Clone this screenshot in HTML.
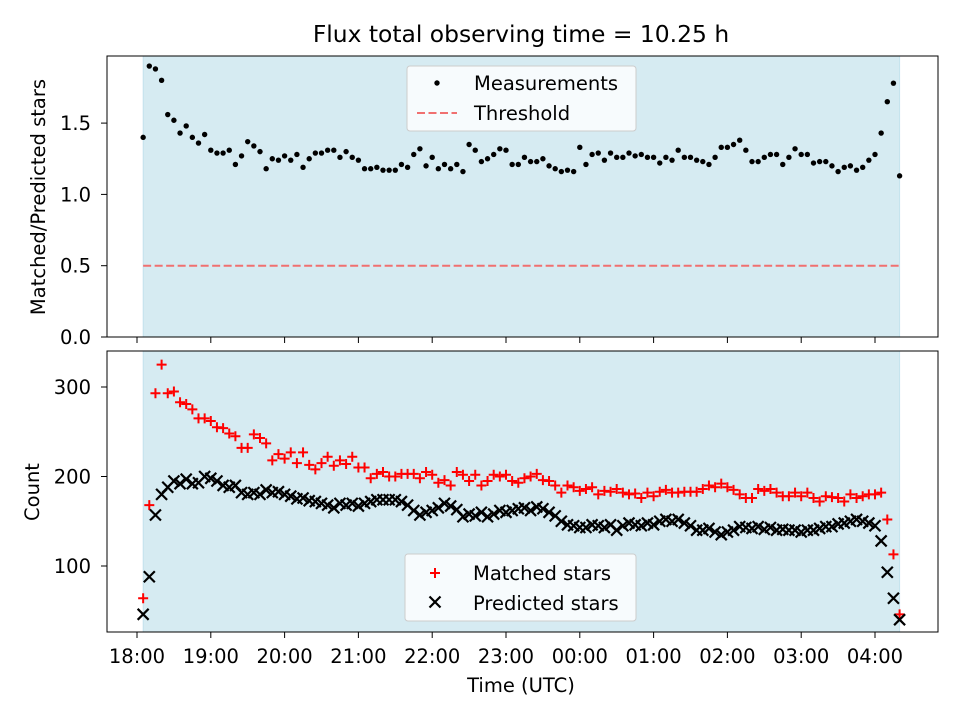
<!DOCTYPE html>
<html><head><meta charset="utf-8"><style>
body{margin:0;background:#fff;font-family:"DejaVu Sans","Liberation Sans",sans-serif}
svg text{font-family:"DejaVu Sans","Liberation Sans",sans-serif}
</style></head><body>
<svg id="c" width="960" height="720" xmlns="http://www.w3.org/2000/svg" style="position:absolute;left:0;top:0"></svg>
<script>
const ratio=[1.40,1.90,1.88,1.80,1.56,1.52,1.43,1.48,1.40,1.36,1.42,1.31,1.29,1.29,1.31,1.21,1.27,1.37,1.34,1.30,1.18,1.25,1.24,1.27,1.24,1.28,1.19,1.25,1.29,1.29,1.31,1.31,1.26,1.30,1.26,1.24,1.18,1.18,1.19,1.17,1.17,1.17,1.21,
1.19,1.28,1.32,1.20,1.26,1.18,1.21,1.18,1.21,1.16,1.35,1.31,1.23,1.25,1.28,1.32,1.31,1.21,1.21,1.26,1.23,1.23,1.25,1.20,1.18,1.16,1.17,1.16,1.33,1.21,1.28,1.29,1.24,1.29,1.26,1.26,1.29,1.27,1.28,1.26,1.26,1.22,1.26,
1.24,1.31,1.26,1.26,1.24,1.23,1.21,1.26,1.33,1.33,1.35,1.38,1.31,1.23,1.23,1.26,1.28,1.28,1.21,1.26,1.32,1.28,1.28,1.22,1.23,1.23,1.20,1.16,1.19,1.20,1.17,1.19,1.24,1.28,1.43,1.65,1.78,1.13];
const matched=[64,168,293,325,293,295,283,281,275,265,265,262,255,254,248,245,232,232,247,243,237,218,225,220,227,215,227,213,208,215,222,212,218,214,222,210,210,198,203,205,200,200,203,203,203,198,205,202,193,196,190,205,202,195,202,190,195,202,200,202,195,193,198,200,203,196,195,190,182,190,188,184,186,188,180,184,183,186,182,180,181,176,182,178,183,185,182,182,183,183,183,186,190,188,192,188,185,180,176,176,186,184,186,182,178,178,182,178,182,176,172,178,177,176,172,180,176,178,180,180,182,152,113,46];
const predicted=[46,88,157,180,188,195,192,197,192,193,200,198,195,190,188,190,182,180,182,180,185,182,183,180,178,175,176,173,172,170,168,165,170,168,170,167,170,172,174,174,174,174,172,168,162,157,160,162,165,170,167,163,155,158,156,160,155,158,162,160,162,164,165,162,166,164,160,156,150,146,145,143,143,146,145,143,146,140,145,148,146,145,148,146,150,152,150,152,148,145,140,140,142,138,135,138,140,144,143,142,144,141,143,140,141,140,140,138,140,140,142,144,144,147,148,150,152,150,148,145,128,93,64,40];
const xTicks=["18:00","19:00","20:00","21:00","22:00","23:00","00:00","01:00","02:00","03:00","04:00"];
const topTicks=[0.0,0.5,1.0,1.5];
const botTicks=[100,200,300];
const startH=18+5/60, stepH=5/60, spanEndH=18+10.25+5/60;
const threshold=0.5;
const NS="http://www.w3.org/2000/svg";
const svg=document.getElementById('c');
const FS=19.5;
function el(t,a,p){const e=document.createElementNS(NS,t);for(const k in a)e.setAttribute(k,a[k]);(p||svg).appendChild(e);return e;}
const X=h=>137+(h-18)*73.8;
const YT=v=>337-v*142.6;
const YB=v=>566-(v-100)*0.895;
function axes(y0,y1,name){
  const g=el('g',{});
  el('rect',{x:X(startH),y:y0,width:X(spanEndH)-X(startH),height:y1-y0,fill:'#add8e6','fill-opacity':0.5,stroke:'#add8e6','stroke-opacity':0.6},g);
  return g;
}
function frame(y0,y1,g){el('rect',{x:107,y:y0,width:831,height:y1-y0,fill:'none',stroke:'#000','stroke-width':1},g);
  xTicks.forEach((t,i)=>{const x=X(18+i);el('line',{x1:x,x2:x,y1:y1,y2:y1+6,stroke:'#000'},g);});}
const gt=axes(56,337,'top-axes');
const th=el('line',{x1:X(startH),x2:X(spanEndH),y1:YT(threshold),y2:YT(threshold),stroke:'#f07070','stroke-width':2,'stroke-dasharray':'8,3.5'},gt);

ratio.forEach((v,i)=>{const c=el('circle',{cx:X(startH+i*stepH),cy:YT(v),r:2.7,fill:'#000'},gt);
});
frame(56,337,gt);
topTicks.forEach(v=>{const y=YT(v);el('line',{x1:101,x2:107,y1:y,y2:y,stroke:'#000'},gt);
const t=el('text',{x:91,y:y+7,'text-anchor':'end','font-size':FS},gt);t.textContent=v.toFixed(1);});
const gb=axes(351,632,'bottom-axes');
matched.forEach((v,i)=>{const x=X(startH+i*stepH),y=YB(v);const p=el('path',{d:`M${x-5},${y}h10M${x},${y-5}v10`,stroke:'#f00','stroke-width':2},gb);
});
predicted.forEach((v,i)=>{const x=X(startH+i*stepH),y=YB(v);const p=el('path',{d:`M${x-5.5},${y-5.5}l11,11M${x-5.5},${y+5.5}l11,-11`,stroke:'#000','stroke-width':2.2},gb);
});
frame(351,632,gb);
botTicks.forEach(v=>{const y=YB(v);el('line',{x1:101,x2:107,y1:y,y2:y,stroke:'#000'},gb);
const t=el('text',{x:91,y:y+7,'text-anchor':'end','font-size':FS},gb);t.textContent=v;});
xTicks.forEach((s,i)=>{const t=el('text',{x:X(18+i),y:663,'text-anchor':'middle','font-size':FS});t.textContent=s;
});
</script>
<svg style="position:absolute;left:0;top:0" width="960" height="720" xmlns="http://www.w3.org/2000/svg">
<text x="521" y="42" text-anchor="middle" font-size="23.4">Flux total observing time = 10.25 h</text>
<text x="0" y="0" transform="translate(45,197) rotate(-90)" text-anchor="middle" font-size="19.5">Matched/Predicted stars</text>
<text x="0" y="0" transform="translate(39,492) rotate(-90)" text-anchor="middle" font-size="19.5">Count</text>
<text x="521" y="692" text-anchor="middle" font-size="19.5">Time (UTC)</text>
<g>
<rect x="407" y="66" width="229" height="65" rx="3" fill="#fff" fill-opacity="0.8" stroke="#ccc"/>
<circle cx="437" cy="83" r="2.7" fill="#000"/>
<text x="474" y="90" font-size="19.5">Measurements</text>
<line x1="417" x2="457" y1="113" y2="113" stroke="#f07070" stroke-width="2" stroke-dasharray="8,3.5"/>
<text x="474" y="120" font-size="19.5">Threshold</text>
</g>
<g>
<rect x="405" y="554" width="231" height="67" rx="3" fill="#fff" fill-opacity="0.8" stroke="#ccc"/>
<path d="M430,573h10M435,568v10" stroke="#f00" stroke-width="2"/>
<text x="473" y="580" font-size="19.5">Matched stars</text>
<path d="M429.5,596.5l11,11M429.5,607.5l11,-11" stroke="#000" stroke-width="2.2"/>
<text x="473" y="610" font-size="19.5">Predicted stars</text>
</g>
</svg>
</body></html>
